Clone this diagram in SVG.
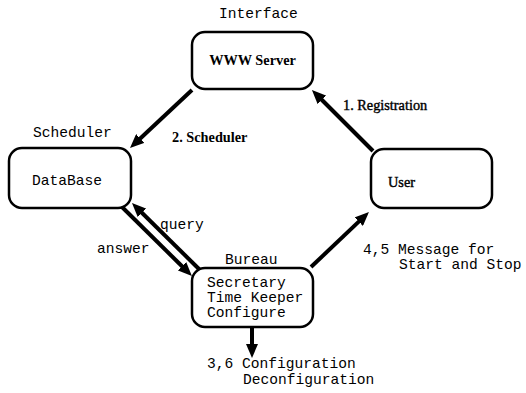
<svg xmlns="http://www.w3.org/2000/svg" width="526" height="393" viewBox="0 0 526 393">
  <style>
    .box { fill: #fff; stroke: #000; stroke-width: 2.5; }
    .mono { font-family: "Liberation Mono", "Courier New", monospace; font-size: 14.6px; fill: #000; }
    .serif { font-family: "Liberation Serif", "Times New Roman", serif; font-size: 14.3px; fill: #000; }
    .bold { font-weight: bold; }
    .edge { stroke: #000; stroke-width: 4; fill: none; marker-end: url(#head); }
  </style>
  <defs>
    <marker id="head" viewBox="0 0 14 12" refX="4" refY="6" markerWidth="14" markerHeight="12" markerUnits="userSpaceOnUse" orient="auto">
      <path d="M0,0 L14,6 L0,12 z" fill="#000"/>
    </marker>
  </defs>
  <rect width="526" height="393" fill="#fff"/>

  <g id="connectors">
    <line class="edge" x1="373" y1="151" x2="319" y2="97"/>
    <line class="edge" x1="192" y1="90" x2="137.3" y2="141.2"/>
    <line class="edge" x1="122" y1="207" x2="184.8" y2="269"/>
    <line class="edge" x1="201" y1="271" x2="139.1" y2="210"/>
    <line class="edge" x1="311" y1="267" x2="361.7" y2="218.9"/>
    <line class="edge" x1="252" y1="327" x2="252" y2="348"/>
  </g>

  <g id="interface">
    <text class="mono" x="219" y="18">Interface</text>
    <rect class="box" x="192" y="32" width="121" height="57" rx="13"/>
    <text class="serif bold" x="252.5" y="65" text-anchor="middle">WWW Server</text>
  </g>

  <g id="scheduler">
    <text class="mono" x="33" y="137">Scheduler</text>
    <rect class="box" x="9" y="148" width="122" height="60" rx="13"/>
    <text class="mono" x="32" y="185">DataBase</text>
  </g>

  <g id="user">
    <rect class="box" x="371" y="149" width="121" height="59" rx="13"/>
    <text class="serif" x="388" y="187" stroke="#000" stroke-width="0.4">User</text>
  </g>

  <g id="bureau">
    <text class="mono" x="225" y="264">Bureau</text>
    <rect class="box" x="192" y="268" width="121" height="59" rx="13"/>
    <text class="mono" x="207" y="287">Secretary</text>
    <text class="mono" x="207" y="302">Time Keeper</text>
    <text class="mono" x="207" y="317">Configure</text>
  </g>

  <g id="labels">
    <text class="serif" x="343" y="110" stroke="#000" stroke-width="0.4">1. Registration</text>
    <text class="serif bold" x="172" y="142">2. Scheduler</text>
    <text class="mono" x="160" y="229">query</text>
    <text class="mono" x="97" y="253">answer</text>
    <text class="mono" x="363" y="254">4,5 Message for</text>
    <text class="mono" x="399" y="269">Start and Stop</text>
    <text class="mono" x="207" y="368">3,6 Configuration</text>
    <text class="mono" x="243" y="384">Deconfiguration</text>
  </g>
</svg>
